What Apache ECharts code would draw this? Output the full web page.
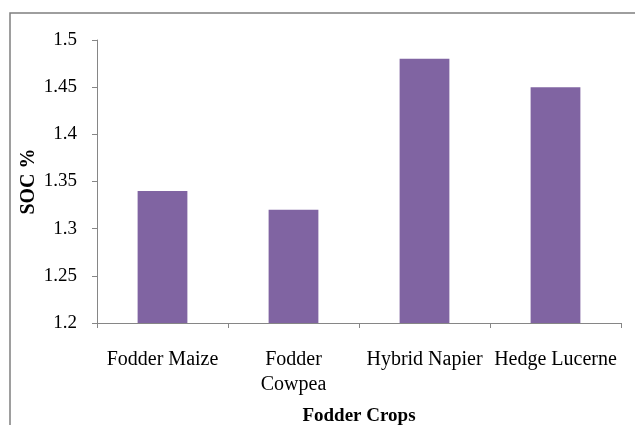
<!DOCTYPE html>
<html>
<head>
<meta charset="utf-8">
<script src="https://cdn.jsdelivr.net/npm/echarts@6/dist/echarts.min.js"></script>
<style>
  html, body { margin: 0; padding: 0; background: #fff; }
  #chart { width: 635px; height: 425px; }
</style>
</head>
<body>
<div id="chart"></div>
<script>
// Soil organic carbon under four fodder crops
const crops = ['Fodder Maize', 'Fodder\nCowpea', 'Hybrid Napier', 'Hedge Lucerne'];
const socValues = [1.34, 1.32, 1.48, 1.45];
const yTicks = { min: 1.2, max: 1.5, step: 0.05 };

const font = 'Liberation Serif, Times New Roman, serif';
const axisGray = '#868686';

const chart = echarts.init(document.getElementById('chart'), null, { renderer: 'canvas' });
chart.setOption({
  backgroundColor: '#ffffff',
  animation: false,
  graphic: [{
    type: 'rect',
    shape: { x: 10, y: 13, width: 700, height: 500 },
    style: { fill: 'none', stroke: '#7f7f7f', lineWidth: 1.5 },
    silent: true
  }],
  grid: {
    left: 97, right: 14, top: 40, bottom: 102,
    containLabel: false, outerBoundsMode: 'none'
  },
  xAxis: {
    type: 'category',
    data: crops,
    name: 'Fodder Crops',
    nameLocation: 'middle',
    nameGap: 93,
    nameMoveOverlap: false,
    nameTextStyle: { fontFamily: font, fontSize: 19, fontWeight: 'bold', color: '#000', verticalAlign: 'middle' },
    axisLine: { lineStyle: { color: axisGray, width: 1 } },
    axisTick: { show: true, length: 5, alignWithLabel: false, lineStyle: { color: axisGray } },
    axisLabel: {
      interval: 0, margin: 24,
      fontFamily: font, fontSize: 20, color: '#000', lineHeight: 25
    }
  },
  yAxis: {
    type: 'value',
    min: yTicks.min, max: yTicks.max, interval: yTicks.step,
    name: 'SOC %',
    nameLocation: 'middle',
    nameGap: 68,
    nameMoveOverlap: false,
    nameRotate: 90,
    nameTextStyle: { fontFamily: font, fontSize: 20, fontWeight: 'bold', color: '#000', verticalAlign: 'middle' },
    axisLine: { show: true, lineStyle: { color: axisGray, width: 1 } },
    axisTick: { show: true, length: 5, lineStyle: { color: axisGray } },
    splitLine: { show: false },
    axisLabel: {
      margin: 20,
      fontFamily: font, fontSize: 19, color: '#000',
      formatter: v => String(parseFloat(v.toFixed(2)))
    }
  },
  series: [{
    type: 'bar',
    data: socValues,
    barWidth: '38%',
    itemStyle: { color: '#8064A2' }
  }]
});
</script>
</body>
</html>
